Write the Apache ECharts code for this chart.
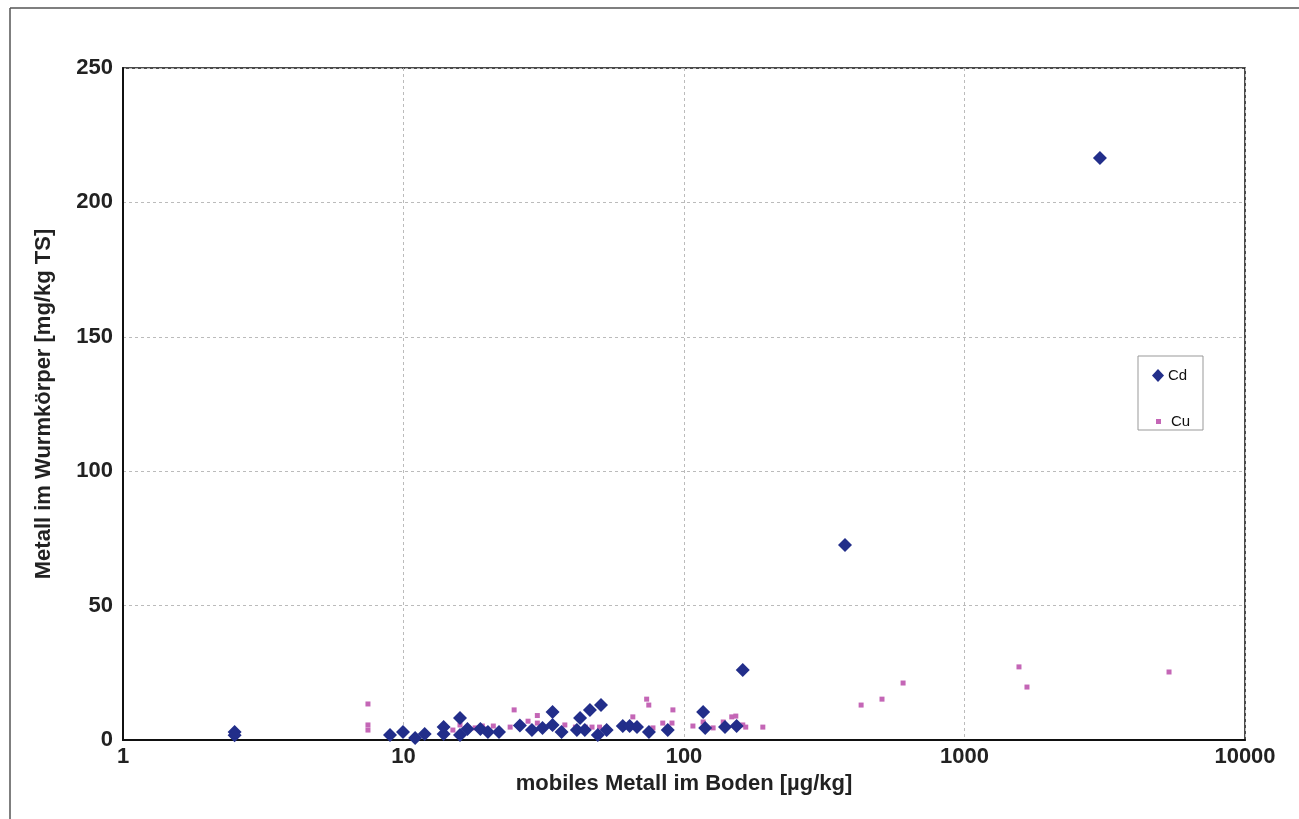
<!DOCTYPE html>
<html><head><meta charset="utf-8">
<script src="https://cdn.jsdelivr.net/npm/echarts@6/dist/echarts.min.js"></script>
<style>html,body{margin:0;padding:0;background:#fff}#c{width:1299px;height:819px}</style>
</head><body><div id="c"></div>
<script>
const xTicks = [1, 10, 100, 1000, 10000];
const yTicks = [0, 50, 100, 150, 200, 250];
const cdX = [2.5, 2.5, 8.95, 9.96, 11.0, 11.9, 13.9, 13.9, 15.9, 15.9, 16.9, 18.8, 20.0, 21.9, 26.0, 28.7, 31.3, 34.0, 34.0, 36.6, 41.5, 42.6, 44.3, 46.2, 49.3, 50.6, 53.0, 60.5, 64.0, 68.0, 75.0, 87.5, 117, 119, 140, 154, 162, 375, 3040];
const cdY = [3.0, 1.8, 1.9, 3.0, 0.7, 2.2, 4.8, 2.2, 8.2, 1.9, 4.1, 4.1, 3.0, 3.0, 5.4, 3.7, 4.5, 10.4, 5.6, 3.0, 3.7, 8.2, 3.7, 11.2, 1.9, 13.0, 3.7, 5.2, 5.2, 4.8, 3.0, 3.7, 10.4, 4.5, 4.8, 5.2, 26, 72.5, 216.5];
const cuX = [7.47, 7.47, 7.47, 15.0, 15.9, 17.0, 18.0, 19.1, 19.8, 20.9, 24.0, 24.8, 27.8, 30.0, 30.0, 34.0, 37.6, 41.0, 44.5, 47.0, 50.0, 52.8, 60.5, 65.7, 73.6, 74.9, 77.5, 84.0, 90.6, 91.3, 107.6, 117, 127, 138, 148, 153, 162, 166, 191, 428, 508, 604, 1564, 1670, 5360];
const cuY = [13.4, 5.6, 3.7, 3.7, 5.6, 4.5, 4.5, 5.2, 4.1, 5.2, 4.8, 11.2, 7.0, 9.1, 6.3, 4.8, 5.6, 4.8, 4.8, 4.8, 4.8, 4.5, 5.2, 8.6, 15.2, 13.0, 4.5, 6.3, 6.3, 11.2, 5.2, 6.7, 4.5, 6.7, 8.6, 8.9, 5.6, 4.8, 4.8, 13.0, 15.2, 21.2, 27.2, 19.7, 25.3];

const cd = cdX.map((x, i) => [x, cdY[i]]);
const cu = cuX.map((x, i) => [x, cuY[i]]);
const font = 'Liberation Sans, Arial, sans-serif';
const cdColor = '#222e8a';
const cuColor = '#c466b6';
const chart = echarts.init(document.getElementById('c'));
chart.setOption({
  animation: false,
  backgroundColor: '#fff',
  graphic: [
    {type: 'line', shape: {x1: 10, y1: 8, x2: 1299, y2: 8}, style: {stroke: '#555', lineWidth: 1.5}},
    {type: 'line', shape: {x1: 10, y1: 8, x2: 10, y2: 819}, style: {stroke: '#555', lineWidth: 1.5}},
    {type: 'rect', shape: {x: 1138, y: 356, width: 65, height: 74}, style: {fill: '#fff', stroke: '#999', lineWidth: 1}, z: 50}
  ],
  grid: {left: 123, right: 54, top: 68, bottom: 79, show: true, borderColor: '#111', borderWidth: 1.5, backgroundColor: '#fff'},
  legend: [
    {
      left: 1152, top: 368, padding: 0, z: 60,
      icon: 'diamond', itemWidth: 12, itemHeight: 13, itemGap: 0,
      textStyle: {fontFamily: font, fontSize: 15, color: '#111', padding: [0, 0, 0, -1]},
      data: [{name: 'Cd', itemStyle: {color: cdColor}}]
    },
    {
      left: 1156, top: 414, padding: 0, z: 60,
      icon: 'rect', itemWidth: 5, itemHeight: 5, itemGap: 0,
      textStyle: {fontFamily: font, fontSize: 15, color: '#111', padding: [0, 0, 0, 5]},
      data: [{name: 'Cu', itemStyle: {color: cuColor}}]
    }
  ],
  xAxis: {
    type: 'log', logBase: 10, min: xTicks[0], max: xTicks[xTicks.length - 1],
    name: 'mobiles Metall im Boden [µg/kg]', nameLocation: 'middle', nameGap: 22,
    nameTextStyle: {fontFamily: font, fontSize: 22, fontWeight: 'bold', color: '#222'},
    axisLine: {lineStyle: {color: '#111', width: 2}},
    axisTick: {show: false}, minorTick: {show: false},
    axisLabel: {fontFamily: font, fontSize: 22, fontWeight: 'bold', color: '#222', margin: 6,
      formatter: v => String(Math.round(v))},
    splitLine: {show: true, lineStyle: {color: '#bbb', type: [3, 3], width: 1}}
  },
  yAxis: {
    type: 'value', min: yTicks[0], max: yTicks[yTicks.length - 1], interval: 50,
    name: 'Metall im Wurmkörper [mg/kg TS]', nameLocation: 'middle', nameGap: 68,
    nameTextStyle: {fontFamily: font, fontSize: 22, fontWeight: 'bold', color: '#222'},
    axisLine: {show: true, lineStyle: {color: '#111', width: 2}},
    axisTick: {show: false},
    axisLabel: {fontFamily: font, fontSize: 22, fontWeight: 'bold', color: '#222', margin: 10},
    splitLine: {show: true, lineStyle: {color: '#bbb', type: [3, 3], width: 1}}
  },
  series: [
    {name: 'Cd', type: 'scatter', data: cd, symbol: 'diamond', symbolSize: 14, itemStyle: {color: cdColor, opacity: 1}, z: 3},
    {name: 'Cu', type: 'scatter', data: cu, symbol: 'rect', symbolSize: 5, itemStyle: {color: cuColor, opacity: 1}, z: 2}
  ]
});
</script></body></html>
